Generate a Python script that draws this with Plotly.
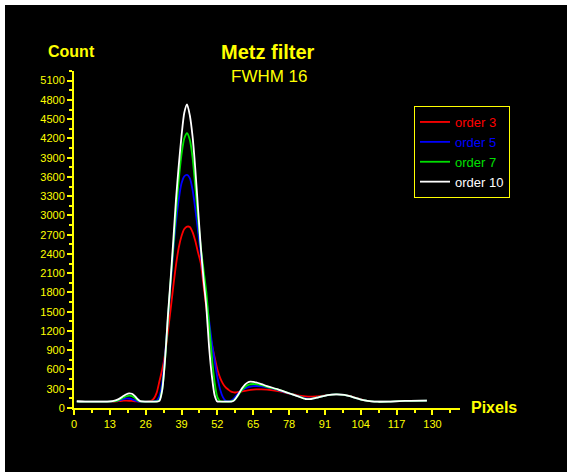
import plotly.graph_objects as go

# ---------------- data ----------------
pixels = [1, 4, 8, 12, 14, 16, 18, 19, 20, 21, 22, 23, 24, 26, 28, 29, 30, 31, 32, 33,
          34, 35, 36, 37, 38, 39, 40, 41, 42, 43, 44, 45, 46, 47, 48, 49, 50, 51, 52, 53,
          54, 55, 56, 57, 58, 59, 60, 61, 62, 63, 64, 65, 66, 68, 70, 74, 78, 81, 84, 86,
          88, 92, 95, 98, 100, 102, 105, 108, 110, 114, 118, 122, 128]

order3 = [100, 100, 100, 100, 100, 106, 114, 115, 113, 110, 105, 102, 100, 100, 110, 150, 240, 420, 600, 830,
          1170, 1520, 1890, 2230, 2500, 2680, 2790, 2825, 2820, 2740, 2600, 2420, 2250, 1900, 1560, 1250, 990, 790, 600, 470,
          380, 320, 285, 255, 242, 244, 252, 260, 268, 275, 281, 286, 289, 291, 285, 262, 225, 198, 182, 178,
          180, 200, 213, 205, 188, 160, 124, 104, 99, 100, 108, 112, 114]

order5 = [100, 100, 100, 100, 102, 115, 140, 151, 148, 136, 117, 104, 100, 100, 100, 102, 115, 180, 390, 800,
          1350, 1900, 2450, 2900, 3250, 3500, 3610, 3630, 3580, 3400, 3100, 2750, 2400, 2030, 1700, 1360, 1020, 740, 480, 290,
          170, 112, 105, 115, 150, 200, 245, 280, 305, 322, 334, 340, 343, 338, 320, 280, 228, 190, 150, 145,
          160, 200, 213, 205, 185, 158, 123, 103, 98, 100, 108, 112, 114]

order7 = [100, 100, 100, 100, 103, 120, 165, 183, 192, 185, 158, 122, 103, 100, 100, 100, 102, 125, 300, 730,
          1350, 1950, 2500, 3050, 3550, 3950, 4200, 4280, 4180, 3900, 3450, 2950, 2500, 2150, 1800, 1300, 800, 400, 170, 105,
          100, 100, 100, 102, 120, 165, 225, 285, 328, 356, 370, 374, 371, 355, 330, 285, 230, 187, 142, 140,
          160, 200, 213, 205, 185, 158, 123, 103, 98, 100, 108, 112, 114]

order10 = [105, 100, 100, 100, 108, 135, 190, 215, 229, 222, 190, 140, 108, 100, 100, 100, 100, 110, 280, 740,
           1400, 1980, 2600, 3250, 3780, 4240, 4600, 4730, 4560, 4230, 3720, 3100, 2500, 2000, 1570, 950, 500, 200, 100, 100,
           100, 100, 100, 100, 115, 170, 240, 310, 365, 398, 410, 406, 398, 372, 342, 290, 230, 185, 140, 140,
           160, 200, 213, 205, 185, 158, 123, 103, 98, 100, 108, 112, 114]

series_names = ["order 3", "order 5", "order 7", "order 10"]
series_values = [order3, order5, order7, order10]
series_colors = ["#ff0000", "#0000ff", "#00e000", "#ffffff"]

x_ticks = [0, 13, 26, 39, 52, 65, 78, 91, 104, 117, 130]
y_ticks = list(range(0, 5101, 300))

# ---------------- figure ----------------
YEL = "#ffff00"
FONT = "Liberation Sans, Arial, sans-serif"

fig = go.Figure()
for name, vals, col in zip(series_names, series_values, series_colors):
    fig.add_trace(go.Scatter(
        x=pixels, y=vals, mode="lines",
        name=f"<span style='color:{col}'>{name}</span>",
        line=dict(color=col, width=1.8, shape="spline", smoothing=0.7),
    ))

W, H = 567, 472
ml, mr, mt, mb = 74, 107, 71, 64
PW, PH = W - ml - mr, H - mt - mb

axis_common = dict(
    showgrid=False, zeroline=False, showline=True, linecolor=YEL, linewidth=2,
    ticks="outside", tickcolor=YEL, tickwidth=1.5, ticklen=5,
    tickfont=dict(family=FONT, size=11, color=YEL),
)

fig.update_layout(
    width=W, height=H,
    margin=dict(l=ml, r=mr, t=mt, b=mb, pad=0),
    paper_bgcolor="#000000", plot_bgcolor="#000000",
    showlegend=True,
    legend=dict(
        x=(414 - ml) / PW, y=(408 - 106) / PH,
        xanchor="left", yanchor="top",
        bgcolor="#000000", bordercolor=YEL, borderwidth=1,
        font=dict(family=FONT, size=13, color="#ffffff"),
        itemwidth=30, tracegroupgap=0,
    ),
    xaxis=dict(range=[0, 140], tickmode="array", tickvals=x_ticks,
               minor=dict(dtick=6.5, tick0=0, ticks="outside", ticklen=3, tickcolor=YEL, tickwidth=1.5),
               **axis_common),
    yaxis=dict(range=[0, 5250], tickmode="array", tickvals=y_ticks,
               minor=dict(dtick=150, tick0=0, ticks="outside", ticklen=3, tickcolor=YEL, tickwidth=1.5),
               **axis_common),
    shapes=[
        dict(type="rect", xref="paper", yref="paper",
             x0=-ml / PW - 0.1, x1=(W - ml) / PW + 0.1,
             y0=(H - mb - 5) / PH, y1=(H - mb) / PH + 0.1,
             fillcolor="#ffffff", line=dict(width=0), layer="above"),
        dict(type="rect", xref="paper", yref="paper",
             x0=-ml / PW - 0.1, x1=-(ml - 5) / PW,
             y0=-mb / PH - 0.1, y1=(H - mb) / PH + 0.1,
             fillcolor="#ffffff", line=dict(width=0), layer="above"),
    ],
    annotations=[
        dict(text="<b>Metz filter</b>", xref="paper", yref="paper",
             x=(268 - ml) / PW, y=(408 - 52) / PH,
             xanchor="center", yanchor="middle", showarrow=False,
             font=dict(family=FONT, size=20, color=YEL)),
        dict(text="FWHM 16", xref="paper", yref="paper",
             x=(269 - ml) / PW, y=(408 - 77) / PH,
             xanchor="center", yanchor="middle", showarrow=False,
             font=dict(family=FONT, size=17, color=YEL)),
        dict(text="<b>Count</b>", xref="paper", yref="paper",
             x=(71 - ml) / PW, y=(408 - 52) / PH,
             xanchor="center", yanchor="middle", showarrow=False,
             font=dict(family=FONT, size=16, color=YEL)),
        dict(text="<b>Pixels</b>", xref="paper", yref="paper",
             x=(494 - ml) / PW, y=(408 - 407) / PH,
             xanchor="center", yanchor="middle", showarrow=False,
             font=dict(family=FONT, size=16, color=YEL)),
    ],
)

fig.write_html("out.html")
